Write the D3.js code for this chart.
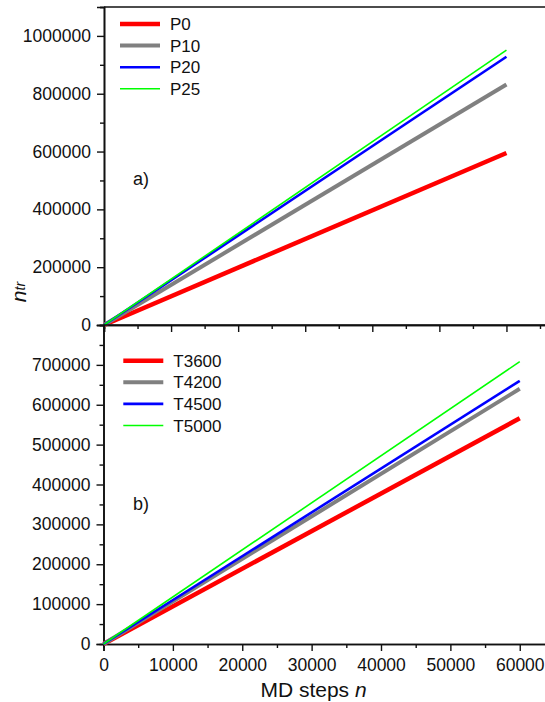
<!DOCTYPE html>
<html>
<head>
<meta charset="utf-8">
<script src="https://cdn.jsdelivr.net/npm/d3@7/dist/d3.min.js"></script>
<style>
body { margin: 0; background: #fff; }
svg text { font-family: "Liberation Sans", Arial, sans-serif; fill: #111; }
</style>
</head>
<body>
<svg id="chart" width="545" height="702"></svg>
<script>
// ---- data ----
const pSeries = ["P0", "P10", "P20", "P25"];
const pSteps = [0, 60000];
const pP0 = [0, 595000];
const pP10 = [0, 832000];
const pP20 = [0, 928000];
const pP25 = [0, 951000];

const tSeries = ["T3600", "T4200", "T4500", "T5000"];
const tSteps = [0, 60000];
const tT3600 = [0, 566000];
const tT4200 = [0, 640000];
const tT4500 = [0, 660000];
const tT5000 = [0, 708000];

const topYTicks = [0, 200000, 400000, 600000, 800000, 1000000];
const botYTicks = [0, 100000, 200000, 300000, 400000, 500000, 600000, 700000];
const xTicks = [0, 10000, 20000, 30000, 40000, 50000, 60000];

const colors = ["#ff0000", "#808080", "#0000ff", "#00ff00"];
const widths = [4.5, 4, 2.6, 1.6];

// ---- layout ----
const svg = d3.select("#chart");

const xTop = d3.scaleLinear().domain([0, 66000]).range([104, 546.7]);
const yTop = d3.scaleLinear().domain([0, 1100000]).range([325, 7]);
const xBot = d3.scaleLinear().domain([0, 64000]).range([103.5, 547.5]);
const yBot = d3.scaleLinear().domain([0, 800000]).range([644, 325]);

function styleAxis(g) {
  g.attr("font-family", null).attr("font-size", null);
  g.select(".domain").attr("stroke", "#111").attr("stroke-width", 1.6);
  g.selectAll(".tick line").attr("stroke", "#111").attr("stroke-width", 1.4);
  g.selectAll(".tick text").style("font-size", "17.5px").attr("fill", "#111");
}

function panel(x, y, yTicks, yMinorStep, steps, vals, names, showX, lbl, lblY, legY0, legX) {
  const [x0, x1] = x.range();
  const [y0, y1] = y.range();
  svg.append("line").attr("x1", x0).attr("x2", x1).attr("y1", y1).attr("y2", y1)
    .attr("stroke", "#111").attr("stroke-width", 1.6);
  svg.append("line").attr("x1", x1).attr("x2", x1).attr("y1", y1).attr("y2", y0)
    .attr("stroke", "#111").attr("stroke-width", 1.6);

  const ymax = y.domain()[1];
  const minor = d3.range(0, ymax + 1, yMinorStep).filter(v => !yTicks.includes(v));
  svg.append("g").attr("transform", `translate(${x0},0)`)
    .call(d3.axisLeft(y).tickValues(minor).tickSize(4).tickFormat(""))
    .call(styleAxis);
  svg.append("g").attr("transform", `translate(${x0},0)`)
    .call(d3.axisLeft(y).tickValues(yTicks).tickSize(7).tickPadding(6).tickFormat(d3.format("d")))
    .call(styleAxis);

  const xmax = x.domain()[1];
  const xminor = d3.range(5000, xmax + 1, 10000);
  svg.append("g").attr("transform", `translate(0,${y0})`)
    .call(d3.axisBottom(x).tickValues(xminor).tickSize(4).tickFormat(""))
    .call(styleAxis);
  svg.append("g").attr("transform", `translate(0,${y0})`)
    .call(d3.axisBottom(x).tickValues(xTicks).tickSize(7).tickPadding(8)
      .tickFormat(showX ? d3.format("d") : ""))
    .call(styleAxis);

  const line = d3.line().x(d => x(d[0])).y(d => y(d[1]));
  vals.forEach((v, i) => {
    svg.append("path").datum(steps.map((s, k) => [s, v[k]]))
      .attr("d", line).attr("fill", "none")
      .attr("stroke", colors[i]).attr("stroke-width", widths[i]);
  });

  names.forEach((n, i) => {
    const ly = legY0 + i * 21.6;
    svg.append("line").attr("x1", legX).attr("x2", legX + 40).attr("y1", ly).attr("y2", ly)
      .attr("stroke", colors[i]).attr("stroke-width", widths[i]);
    svg.append("text").attr("x", legX + 50).attr("y", ly + 6).style("font-size", "17px").text(n);
  });

  svg.append("text").attr("x", 133).attr("y", lblY).style("font-size", "18px").text(lbl);
}

panel(xTop, yTop, topYTicks, 100000, pSteps, [pP0, pP10, pP20, pP25], pSeries, false, "a)", 185, 24, 120);
panel(xBot, yBot, botYTicks, 50000, tSteps, [tT3600, tT4200, tT4500, tT5000], tSeries, true, "b)", 510, 360.7, 123.3);

const xt = svg.append("text").attr("x", 313.5).attr("y", 696.5).attr("text-anchor", "middle")
  .style("font-size", "21px");
xt.append("tspan").text("MD steps ");
xt.append("tspan").style("font-style", "italic").text("n");

const yt = svg.append("text").attr("transform", "translate(25.5,292) rotate(-90)")
  .attr("text-anchor", "middle").style("font-size", "21px");
yt.append("tspan").style("font-style", "italic").text("n");
yt.append("tspan").style("font-style", "italic").style("font-size", "14px").attr("dy", "-1").text("tr");
</script>
</body>
</html>
